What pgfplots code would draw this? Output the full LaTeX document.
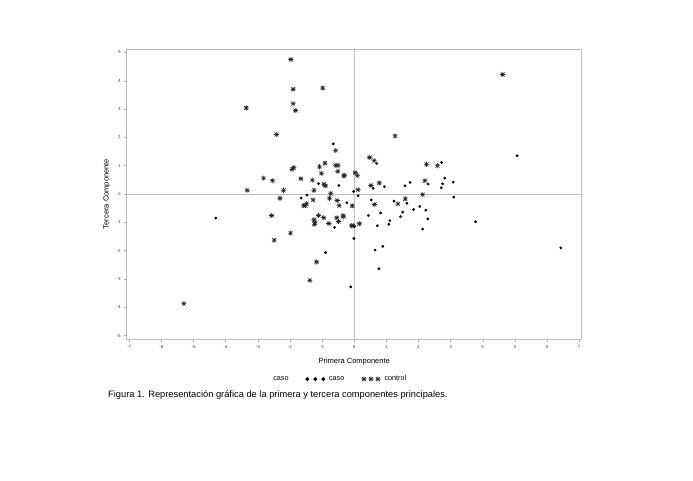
\documentclass[border=0pt]{standalone}
\usepackage{fontspec}
\setmainfont{Liberation Sans}
\usepackage{pgfplots}
\pgfplotsset{compat=1.18}
% eight-armed star, as the control symbol
\pgfdeclareplotmark{sasstar}{%
  \pgfpathmoveto{\pgfqpoint{-\pgfplotmarksize}{0pt}}%
  \pgfpathlineto{\pgfqpoint{\pgfplotmarksize}{0pt}}%
  \pgfpathmoveto{\pgfqpoint{0pt}{-\pgfplotmarksize}}%
  \pgfpathlineto{\pgfqpoint{0pt}{\pgfplotmarksize}}%
  \pgfpathmoveto{\pgfqpoint{-0.75\pgfplotmarksize}{-0.75\pgfplotmarksize}}%
  \pgfpathlineto{\pgfqpoint{0.75\pgfplotmarksize}{0.75\pgfplotmarksize}}%
  \pgfpathmoveto{\pgfqpoint{-0.75\pgfplotmarksize}{0.75\pgfplotmarksize}}%
  \pgfpathlineto{\pgfqpoint{0.75\pgfplotmarksize}{-0.75\pgfplotmarksize}}%
  \pgfusepathqstroke}
\pgfplotsset{
  three dots/.style={legend image code/.code={%
    \draw[##1, only marks, mark size=1.8pt] plot coordinates {(0pt,0pt) (8pt,0pt) (16pt,0pt)};}},
  three stars/.style={legend image code/.code={%
    \draw[##1, only marks] plot coordinates {(0pt,0pt) (7pt,0pt) (14pt,0pt)};}}}

\begin{document}
\begin{tikzpicture}[x=1pt,y=1pt]
\useasboundingbox (0,0) rectangle (693,480);
\begin{axis}[
    at={(126.7pt,141pt)}, anchor=south west,
    width=455pt, height=290pt, scale only axis,
    xmin=-7.08, xmax=7.08, ymin=-5.12, ymax=5.12,
    xtick={-7,...,7}, ytick={-5,...,5},
    tick pos=left, tick align=outside, major tick length=2.5pt,
    axis line style={black!25, line width=0.6pt},
    tick style={black!35, line width=0.4pt},
    ticklabel style={font=\fontsize{4.5}{5}\selectfont, text=black!75},
    /pgf/number format/assume math mode=true,
    xlabel={Primera Componente},
    ylabel={Tercera Componente},
    label style={font=\fontsize{7.5}{9}\selectfont},
    xlabel style={at={(axis description cs:0.5,-0.079)}, anchor=center},
    ylabel style={at={(axis description cs:-0.044,0.5)}, anchor=center, rotate=0},
    legend style={at={(axis description cs:0.466,-0.138)}, anchor=center,
        draw=none, fill=none, legend columns=-1,
        font=\fontsize{7.2}{8}\selectfont,
        /tikz/every even column/.append style={column sep=15pt},
        /tikz/every odd column/.append style={column sep=2pt}},
]
% reference lines at zero
\addplot[black!25, line width=0.6pt, forget plot] coordinates {(-7.08,0) (7.08,0)};
\addplot[black!25, line width=0.6pt, forget plot] coordinates {(0,-5.12) (0,5.12)};

\addlegendimage{empty legend}
\addlegendentry{caso}

% caso
\addplot[only marks, mark=*, mark size=1.2pt, black, three dots]
coordinates {
(-0.65,1.77) (0.70,1.08) (2.72,1.11) (5.07,1.35)
(-1.11,0.37) (-0.48,0.30) (0.59,0.20) (0.94,0.26)
(2.82,0.56) (2.30,0.35) (2.75,0.36) (2.71,0.22)
(3.08,0.42) (1.58,0.29) (1.74,0.41) (-0.02,0.09)
(0.12,-0.06) (-1.47,-0.04) (-1.65,-0.14) (-0.23,-0.31)
(3.10,-0.11) (0.53,-0.21) (1.24,-0.25) (1.64,-0.33)
(2.04,-0.44) (2.23,-0.57) (1.85,-0.55) (1.51,-0.64)
(1.44,-0.80) (0.82,-0.67) (0.44,-0.76) (2.29,-0.88)
(1.11,-0.94) (1.08,-1.07) (0.72,-1.12) (0.01,-1.14)
(-0.01,-1.57) (2.13,-1.24) (3.78,-0.98) (0.65,-1.98)
(0.89,-1.85) (0.77,-2.64) (-0.11,-3.28) (6.43,-1.90)
(-4.31,-0.85) (-0.61,-1.18) (-0.89,-2.07)
};
\addlegendentry{caso}

% control
\addplot[only marks, mark=sasstar, mark size=2.6pt, black!85, line width=0.6pt, three stars]
coordinates {
(-1.97,4.75) (-3.36,3.04) (-1.90,3.70) (-1.90,3.19)
(-1.83,2.95) (-0.98,3.74) (-2.42,2.10) (-0.58,1.54)
(-0.58,1.01) (-0.50,1.01) (-0.91,1.09) (-1.08,0.96)
(-1.02,0.73) (-0.51,0.80) (-0.33,0.64) (-0.30,0.66)
(-1.94,0.87) (-1.88,0.93) (-2.82,0.56) (-2.54,0.47)
(-1.66,0.54) (-1.30,0.49) (-0.94,0.34) (-0.89,0.29)
(-3.33,0.13) (-2.20,0.13) (-1.25,0.13) (-0.73,0.02)
(-2.31,-0.15) (-0.77,-0.15) (-0.53,-0.23) (-1.28,-0.21)
(-1.57,-0.41) (-1.52,-0.41) (-1.48,-0.34) (-0.47,-0.41)
(-2.57,-0.76) (-2.49,-1.63) (-1.98,-1.38) (-1.11,-0.76)
(-1.25,-0.91) (-1.22,-1.02) (-1.24,-1.07) (-0.95,-0.84)
(-0.79,-1.04) (-0.54,-0.84) (-0.49,-0.97) (-0.35,-0.77)
(-0.33,-0.80) (-1.17,-2.40) (-1.38,-3.05) (-5.30,-3.87)
(4.62,4.22) (1.27,2.05) (0.48,1.29) (0.62,1.18)
(2.25,1.05) (2.59,1.00) (0.03,0.75) (0.10,0.65)
(0.52,0.30) (0.78,0.39) (2.20,0.47) (0.12,0.15)
(2.13,-0.02) (1.59,-0.17) (-0.06,-0.42) (0.63,-0.37)
(1.36,-0.35) (0.16,-1.05) (-0.08,-1.12) (-0.03,-1.12)
};
\addlegendentry{control}
\end{axis}
\node[anchor=west, inner sep=0pt, font=\fontsize{9.3}{11}\selectfont] at (108,85)
    {Figura 1. Representación gráfica de la primera y tercera componentes principales.};
\end{tikzpicture}
\end{document}
